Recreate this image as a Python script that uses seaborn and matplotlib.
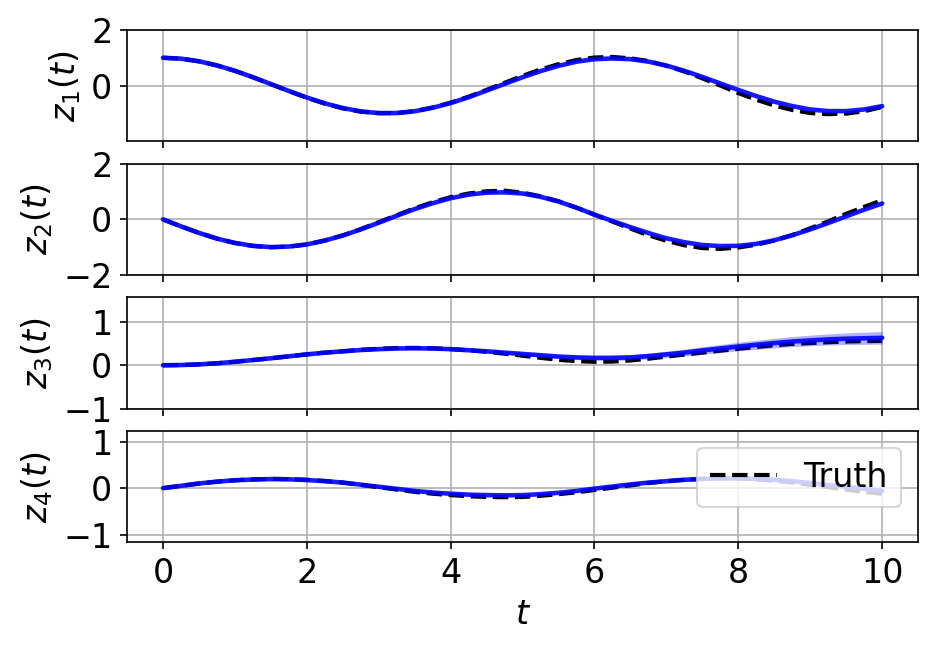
import numpy as np
import matplotlib
matplotlib.use("Agg")
import matplotlib.pyplot as plt
import seaborn as sns

# time grid (read every 0.25)
t = np.arange(0, 10.001, 0.25)

z1_truth = [1.00, 0.968, 0.874, 0.725, 0.53, 0.30, 0.05, -0.20, -0.44, -0.65,
            -0.82, -0.94, -0.995, -0.99, -0.92, -0.79, -0.615, -0.40, -0.155, 0.10,
            0.35, 0.58, 0.77, 0.92, 1.01, 1.03, 0.98, 0.885, 0.71, 0.505,
            0.26, 0.0, -0.27, -0.51, -0.72, -0.88, -0.99, -1.03, -1.01, -0.925,
            -0.77]
z1_pred = [1.00, 0.968, 0.874, 0.725, 0.53, 0.30, 0.055, -0.195, -0.43, -0.64,
           -0.81, -0.93, -0.99, -0.99, -0.925, -0.80, -0.63, -0.42, -0.18, 0.06,
           0.30, 0.52, 0.71, 0.86, 0.95, 0.975, 0.95, 0.86, 0.72, 0.53,
           0.31, 0.075, -0.16, -0.38, -0.58, -0.74, -0.86, -0.92, -0.92, -0.86,
           -0.74]

z2_truth = [0.0, -0.25, -0.485, -0.69, -0.848, -0.954, -1.0, -0.98, -0.90, -0.76,
            -0.575, -0.35, -0.10, 0.15, 0.40, 0.615, 0.80, 0.93, 1.01, 1.03,
            0.96, 0.83, 0.65, 0.42, 0.17, -0.08, -0.33, -0.57, -0.77, -0.93,
            -1.03, -1.06, -1.01, -0.91, -0.76, -0.56, -0.32, -0.07, 0.20, 0.45,
            0.69]
z2_pred = [0.0, -0.25, -0.485, -0.69, -0.845, -0.95, -0.995, -0.975, -0.90, -0.76,
           -0.58, -0.36, -0.12, 0.13, 0.37, 0.58, 0.76, 0.89, 0.96, 0.97,
           0.93, 0.81, 0.64, 0.42, 0.17, -0.06, -0.28, -0.49, -0.68, -0.82,
           -0.92, -0.96, -0.95, -0.88, -0.75, -0.57, -0.36, -0.13, 0.11, 0.35,
           0.57]

z3_truth = [0.0, 0.005, 0.02, 0.045, 0.08, 0.12, 0.16, 0.205, 0.25, 0.29,
            0.32, 0.355, 0.38, 0.395, 0.40, 0.39, 0.37, 0.345, 0.31, 0.265,
            0.22, 0.17, 0.125, 0.095, 0.08, 0.085, 0.11, 0.15, 0.20, 0.245,
            0.29, 0.335, 0.38, 0.42, 0.46, 0.49, 0.51, 0.53, 0.545, 0.555,
            0.56]
z3_pred = [0.0, 0.005, 0.02, 0.045, 0.08, 0.12, 0.16, 0.205, 0.25, 0.29,
           0.32, 0.35, 0.37, 0.385, 0.39, 0.385, 0.37, 0.345, 0.32, 0.29,
           0.26, 0.23, 0.20, 0.18, 0.17, 0.17, 0.18, 0.21, 0.25, 0.29,
           0.34, 0.385, 0.43, 0.47, 0.51, 0.545, 0.57, 0.595, 0.61, 0.62,
           0.63]
z3_spread = [0.0, 0.0, 0.0, 0.0, 0.0, 0.003, 0.005, 0.008, 0.01, 0.012,
             0.014, 0.016, 0.018, 0.02, 0.022, 0.024, 0.026, 0.028, 0.03, 0.033,
             0.036, 0.04, 0.044, 0.048, 0.052, 0.057, 0.062, 0.068, 0.074, 0.08,
             0.086, 0.092, 0.098, 0.104, 0.11, 0.116, 0.122, 0.128, 0.134, 0.14,
             0.145]

z4_truth = [0.0, 0.05, 0.10, 0.14, 0.17, 0.19, 0.20, 0.195, 0.18, 0.155,
            0.12, 0.07, 0.02, -0.03, -0.08, -0.12, -0.15, -0.175, -0.19, -0.195,
            -0.19, -0.165, -0.13, -0.09, -0.04, 0.01, 0.06, 0.11, 0.15, 0.18,
            0.20, 0.21, 0.21, 0.19, 0.16, 0.12, 0.07, 0.02, -0.03, -0.08,
            -0.12]
z4_pred = [0.0, 0.05, 0.10, 0.14, 0.17, 0.185, 0.195, 0.19, 0.175, 0.15,
           0.12, 0.075, 0.03, -0.015, -0.06, -0.095, -0.12, -0.14, -0.15, -0.155,
           -0.15, -0.13, -0.10, -0.06, -0.01, 0.035, 0.08, 0.12, 0.15, 0.18,
           0.20, 0.21, 0.21, 0.20, 0.18, 0.15, 0.11, 0.07, 0.03, -0.015,
           -0.06]

ylabels = ["$z_1(t)$", "$z_2(t)$", "$z_3(t)$", "$z_4(t)$"]
ylims = [(-2.01, 2.0), (-2.0, 2.0), (-1.0, 1.56), (-1.17, 1.23)]
yticks = [[0, 2], [-2, 0, 2], [-1, 0, 1], [-1, 0, 1]]

FS = 16


def main():
    sns.set_style("ticks", {"text.color": "black", "axes.labelcolor": "black",
                            "xtick.color": "black", "ytick.color": "black",
                            "axes.edgecolor": "black"})
    plt.rcParams["font.family"] = ["DejaVu Sans"]
    plt.rcParams["font.size"] = FS
    plt.rcParams["mathtext.fontset"] = "dejavusans"

    truths = [z1_truth, z2_truth, z3_truth, z4_truth]
    preds = [z1_pred, z2_pred, z3_pred, z4_pred]
    spreads = [None, None, z3_spread, None]

    fig, axes = plt.subplots(4, 1, sharex=True, figsize=(934 / 150, 652 / 150), dpi=150)
    fig.subplots_adjust(left=0.136, right=0.983, top=0.954, bottom=0.168, hspace=0.2)

    for i, ax in enumerate(axes):
        lab = "Truth" if i == 3 else None
        sns.lineplot(x=t, y=truths[i], ax=ax, color="k", linestyle="--",
                     linewidth=2, label=lab, zorder=2)
        pr = np.array(preds[i])
        if spreads[i] is not None:
            sp = np.array(spreads[i])
            ax.fill_between(t, pr - sp, pr + sp, color="blue", alpha=0.3,
                            linewidth=0, zorder=3)
        sns.lineplot(x=t, y=pr, ax=ax, color="blue", linewidth=2.2,
                     alpha=0.9, zorder=4)
        ax.set_ylim(*ylims[i])
        ax.set_yticks(yticks[i])
        ax.set_ylabel(ylabels[i], fontsize=FS)
        ax.grid(True, color="#b0b0b0", linewidth=0.8)
        ax.set_xlim(-0.5, 10.5)
        ax.set_xticks([0, 2, 4, 6, 8, 10])
        ax.tick_params(labelsize=FS, length=3.5, width=0.8)
        for s in ax.spines.values():
            s.set_linewidth(0.8)
            s.set_color("k")
        if i != 3 and ax.get_legend() is not None:
            ax.get_legend().remove()

    axes[3].set_xlabel("$t$", fontsize=FS)
    axes[3].legend(loc="upper right", fontsize=FS, framealpha=0.8)

    fig.savefig("out.png", dpi=150)


if __name__ == "__main__":
    main()
